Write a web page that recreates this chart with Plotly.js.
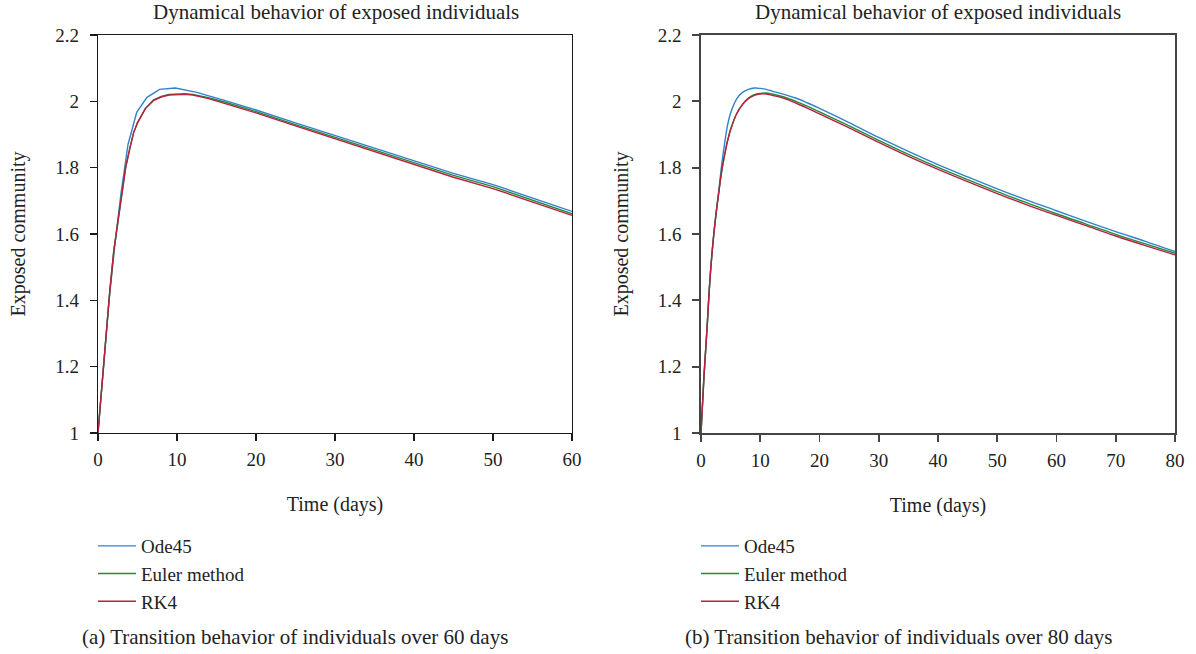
<!DOCTYPE html>
<html>
<head>
<meta charset="utf-8">
<script src="https://cdn.plot.ly/plotly-3.0.1.min.js"></script>
<style>html,body{margin:0;padding:0;background:#fff;}#chart{width:1196px;height:654px;}</style>
</head>
<body>
<div id="chart"></div>
<script>
// ---- data: panel (a), 60 days ----
var tA = [0,0.5,1,1.5,2,2.5,3,3.5,4,4.5,5,6,7,8,9,10,11,12,14,16,18,20,25,30,35,40,45,50,55,60];
var tA_ode = [0,0.7,1.4,2.1,2.9,3.8,4.9,6.2,7.8,9.8,12.5,16,20,25,30,35,40,45,50,55,60];
var odeA   = [1,1.21,1.40,1.56,1.72,1.87,1.967,2.012,2.036,2.040,2.027,2.003,1.974,1.935,1.897,1.859,1.820,1.783,1.749,1.709,1.668];
var eulerA = [1,1.15,1.30,1.43,1.55,1.635,1.73,1.80,1.855,1.905,1.936,1.979,2.004,2.015,2.021,2.023,2.023,2.021,2.011,1.998,1.984,1.969,1.930,1.892,1.853,1.814,1.777,1.743,1.702,1.661];
var rk4A   = [1,1.15,1.30,1.43,1.55,1.635,1.73,1.80,1.855,1.905,1.935,1.978,2.002,2.013,2.019,2.021,2.021,2.019,2.008,1.994,1.980,1.965,1.926,1.887,1.848,1.808,1.771,1.737,1.697,1.656];

// ---- data: panel (b), 80 days ----
var tB = [0,0.5,1,1.5,2,2.5,3,3.5,4,4.5,5,6,7,8,9,10,11,12,14,16,18,20,25,30,35,40,45,50,55,60,65,70,75,80];
var odeB   = [1,1.17,1.31,1.46,1.57,1.655,1.73,1.81,1.875,1.93,1.965,2.007,2.027,2.036,2.040,2.039,2.036,2.031,2.021,2.010,1.995,1.979,1.936,1.891,1.849,1.809,1.772,1.736,1.702,1.670,1.638,1.607,1.578,1.547];
var eulerB = [1,1.17,1.31,1.46,1.57,1.655,1.725,1.79,1.84,1.882,1.915,1.962,1.991,2.010,2.020,2.024,2.025,2.022,2.013,2.000,1.985,1.968,1.926,1.882,1.840,1.801,1.764,1.728,1.694,1.661,1.630,1.599,1.570,1.542];
var rk4B   = [1,1.17,1.31,1.46,1.57,1.655,1.725,1.79,1.84,1.882,1.915,1.962,1.990,2.008,2.018,2.022,2.022,2.018,2.009,1.995,1.979,1.962,1.920,1.876,1.834,1.795,1.758,1.722,1.688,1.656,1.625,1.594,1.565,1.537];

var seriesNames = ["Ode45","Euler method","RK4"];
var colors = ["#3182c8","#218a3c","#b7203f"];
var titleText = "Dynamical behavior of exposed individuals";
var xTitle = "Time (days)";
var yTitle = "Exposed community";
var captions = ["(a) Transition behavior of individuals over 60 days","(b) Transition behavior of individuals over 80 days"];

var F = "Liberation Serif, Times New Roman, serif";
var TC = "#222";
var lw = 1.4;

var traces = [
  {x:tA_ode, y:odeA, name:seriesNames[0], xaxis:"x", yaxis:"y", legend:"legend", line:{color:colors[0],width:lw}, mode:"lines"},
  {x:tA, y:eulerA, name:seriesNames[1], xaxis:"x", yaxis:"y", legend:"legend", line:{color:colors[1],width:lw}, mode:"lines"},
  {x:tA, y:rk4A, name:seriesNames[2], xaxis:"x", yaxis:"y", legend:"legend", line:{color:colors[2],width:lw}, mode:"lines"},
  {x:tB, y:odeB, name:seriesNames[0], xaxis:"x2", yaxis:"y2", legend:"legend2", line:{color:colors[0],width:lw,shape:"spline"}, mode:"lines"},
  {x:tB, y:eulerB, name:seriesNames[1], xaxis:"x2", yaxis:"y2", legend:"legend2", line:{color:colors[1],width:lw,shape:"spline"}, mode:"lines"},
  {x:tB, y:rk4B, name:seriesNames[2], xaxis:"x2", yaxis:"y2", legend:"legend2", line:{color:colors[2],width:lw,shape:"spline"}, mode:"lines"}
];

function xax(dom, range, dtick, anchor, lc, lwid){
  return {domain:dom, range:range, dtick:dtick, tick0:0, anchor:anchor,
    showline:true, mirror:true, linecolor:lc, linewidth:lwid,
    ticks:"outside", ticklen:7, tickwidth:lwid, tickcolor:lc, ticklabelstandoff:2,
    showgrid:false, zeroline:false, tickfont:{family:F,size:19,color:TC},
    title:{text:xTitle, font:{family:F,size:20,color:TC}, standoff:28}};
}
function yax(dom, anchor, lc, lwid){
  return {domain:dom, range:[1,2.2], dtick:0.2, tick0:1, anchor:anchor,
    showline:true, mirror:true, linecolor:lc, linewidth:lwid,
    ticks:"outside", ticklen:7, tickwidth:lwid, tickcolor:lc, ticklabelstandoff:7,
    showgrid:false, zeroline:false, tickfont:{family:F,size:19,color:TC},
    title:{text:yTitle, font:{family:F,size:20,color:TC}, standoff:24}};
}
var W=1196, H=654;
var yd = [1-433/H, 1-35/H];
var legendCommon = {font:{family:F,size:19,color:TC}, bgcolor:"rgba(0,0,0,0)", xanchor:"left", yanchor:"top", tracegroupgap:0, itemwidth:38};

var layout = {
  width:W, height:H, margin:{l:0,r:0,t:0,b:0},
  paper_bgcolor:"#fff", plot_bgcolor:"#fff", showlegend:true,
  xaxis: xax([98/W,572/W],[0,60],10,"y","#1a1a1a",1.3),
  yaxis: yax(yd,"x","#1a1a1a",1.3),
  xaxis2: xax([701/W,1175/W],[0,80],10,"y2","#444",1.7),
  yaxis2: yax(yd,"x2","#444",1.7),
  legend: Object.assign({x:93/W, y:1-527/H}, legendCommon),
  legend2: Object.assign({x:696/W, y:1-527/H}, legendCommon),
  annotations:[
    {text:titleText, xref:"paper", yref:"paper", x:336/W, y:1-12/H, xanchor:"center", yanchor:"middle", showarrow:false, font:{family:F,size:21,color:TC}},
    {text:titleText, xref:"paper", yref:"paper", x:938/W, y:1-12/H, xanchor:"center", yanchor:"middle", showarrow:false, font:{family:F,size:21,color:TC}},
    {text:captions[0], xref:"paper", yref:"paper", x:80/W, y:1-637/H, xanchor:"left", yanchor:"middle", showarrow:false, font:{family:F,size:21,color:TC}},
    {text:captions[1], xref:"paper", yref:"paper", x:683/W, y:1-637/H, xanchor:"left", yanchor:"middle", showarrow:false, font:{family:F,size:21,color:TC}}
  ]
};
Plotly.newPlot("chart", traces, layout, {displayModeBar:false, staticPlot:true});
</script>
</body>
</html>
